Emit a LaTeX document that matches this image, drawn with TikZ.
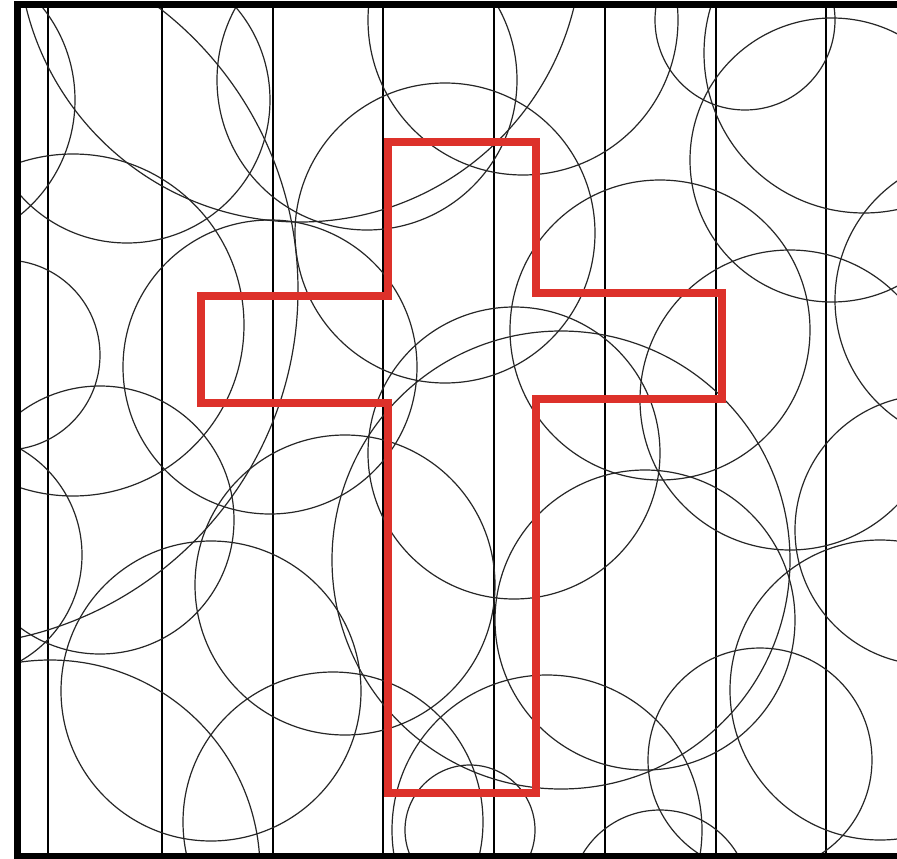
\documentclass[tikz,border=0pt]{standalone}
\usepackage{tikz}
\usetikzlibrary{arrows.meta}
\definecolor{crossred}{RGB}{221,49,42}
\tikzset{
  every picture/.style={line join=round, line cap=round},
  ring/.style={draw=black!85, line width=1.2pt},
  rule/.style={draw=black, line width=1.3pt},
  frameline/.style={draw=black, line width=7pt, line cap=butt, line join=miter},
  crossline/.style={draw=crossred, line width=8pt, line join=miter},
}

\begin{document}
\begin{tikzpicture}[x=1pt,y=-1pt]
\useasboundingbox (0,0) rectangle (897,859);
\fill[white] (0,0) rectangle (897,859);
\begin{scope}
\clip (17,4) rectangle (897,856);
\foreach \x in {48,162,273,383,494,605,716,826}
  \draw[rule] (\x,0)--(\x,859);
\foreach \cx/\cy/\r in {-73/100/148, 127/100/143, 367/80/150, 523/20/155,
    745/20/90, 864/53/160, 832/160/142, 445/233/150, 270/367/147,
    73/325/171, 5/355/95, 660/330/150, 514/453/146, 980/300/145,
    790/400/150, 930/530/135, 345/585/150, 211/691/150, 50/870/210,
    645/620/150, 880/690/150, 547/830/155, 660/900/90, -40/555/122,
    470/830/65, 100/520/134, 333/822/150, 760/760/112,
    300/-60/282, 561/560/229, -58/290/356}
  \draw[ring] (\cx,\cy) circle[radius=\r];
\end{scope}
\draw[crossline] (388,142)--(536,142)--(536,293)--(722,293)--(722,399)
  --(536,399)--(536,793)--(388,793)--(388,403)--(201,403)--(201,296)
  --(388,296)--cycle;
\draw[frameline] (897,4.5)--(17,4.5)--(17,856)--(897,856);
\end{tikzpicture}
\end{document}
